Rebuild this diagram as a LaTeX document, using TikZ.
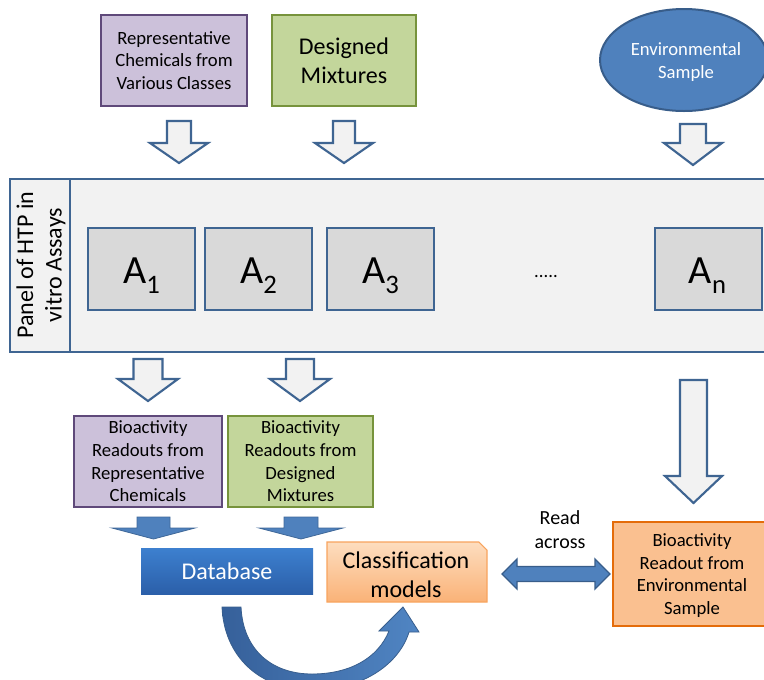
\documentclass[tikz,border=0pt]{standalone}
\usepackage{fontspec}
\setmainfont{Carlito}
\usetikzlibrary{shapes.geometric}
\definecolor{purfill}{HTML}{CCC1DA}
\definecolor{purdraw}{HTML}{5F497A}
\definecolor{grnfill}{HTML}{C3D69B}
\definecolor{grndraw}{HTML}{77933C}
\definecolor{bluefill}{HTML}{4F81BD}
\definecolor{bluedraw}{HTML}{385D8A}
\definecolor{panfill}{HTML}{F2F2F2}
\definecolor{pandraw}{HTML}{3F6592}
\definecolor{afill}{HTML}{D9D9D9}
\definecolor{orfill}{HTML}{FAC090}
\definecolor{ordraw}{HTML}{E46C0A}
\definecolor{dbtop}{HTML}{3D80CF}
\definecolor{dbbot}{HTML}{2B5FA9}
\definecolor{cltop}{HTML}{FDDDBF}
\definecolor{clbot}{HTML}{FAB277}
\definecolor{cldraw}{HTML}{F8A45E}
\definecolor{curvL}{HTML}{36609A}
\definecolor{curvR}{HTML}{5085C3}
\newcommand\blkdown[7]{\path[#1] (#2-#6,#3) -- (#2+#6,#3) -- (#2+#6,#4) -- (#2+#7,#4) -- (#2,#5) -- (#2-#7,#4) -- (#2-#6,#4) -- cycle;}
\newcommand\subsc[1]{\raisebox{-8pt}{\fontsize{20}{20}\selectfont #1}}
\begin{document}
\begin{tikzpicture}[x=0.75pt,y=-0.75pt,
  wh/.style 2 args={minimum width=#1*0.75pt,minimum height=#2*0.75pt},
  bx/.style={inner sep=0pt,outer sep=0pt,rectangle,align=center},
  f14/.style={font=\fontsize{14}{17}\selectfont},
  f18/.style={font=\fontsize{18}{22}\selectfont},
  purbox/.style={bx,fill=purfill,draw=purdraw,line width=1.5pt,f14},
  grnbox/.style={bx,fill=grnfill,draw=grndraw,line width=1.5pt},
  abox/.style={bx,fill=afill,draw=pandraw,line width=1.5pt},
  atext/.style={anchor=base,inner sep=0pt,font=\fontsize{30}{30}\selectfont},
  hollowarr/.style={fill=panfill,draw=pandraw,line width=1.6pt,line join=miter},
  solidarr/.style={fill=bluefill,draw=bluedraw!70!bluefill,line width=0.6pt},
]
\clip (0,0) rectangle (764,679);
\fill[white] (0,0) rectangle (764,679);

% top sources
\node[purbox,wh={146}{91}] (rep) at (174,60.5) {Representative\\Chemicals from\\Various Classes};
\node[grnbox,wh={144}{91},f18] (des) at (344,60.5) {Designed\\Mixtures};
\node[ellipse,inner sep=0pt,fill=bluefill,draw=bluedraw,line width=1.5pt,wh={168}{102},text=white,align=center,f14] (env) at (684,60) {};
\node[align=center,inner sep=0pt,text=white,f14] (envt) at (686,62) {Environmental\\Sample};

% hollow arrows into panel
\blkdown{hollowarr}{179}{121}{143}{163}{12}{29}
\blkdown{hollowarr}{344}{121}{143}{163}{11}{29}
\blkdown{hollowarr}{693}{124}{143}{165}{13}{29}

% panel
\node[bx,fill=panfill,draw=pandraw,line width=1.5pt,wh={770}{173},anchor=north west] (panel) at (10,179) {};
\node[bx,draw=pandraw,line width=1.5pt,wh={60}{173},anchor=north west] (plabel) at (10,179) {};
\node[rotate=90,align=center,inner sep=0pt,font=\fontsize{18}{21.5}\selectfont] (plabeltext) at (41,265) {Panel of HTP in\\vitro Assays};

\node[abox,wh={107}{82}] (A1) at (141.5,269) {};
\node[abox,wh={107}{82}] (A2) at (258.5,269) {};
\node[abox,wh={107}{82}] (A3) at (380.5,269) {};
\node[abox,wh={107}{82}] (An) at (708.5,269) {};
\node[atext] (A1t) at (141.5,283) {A\subsc{1}};
\node[atext] (A2t) at (258.5,283) {A\subsc{2}};
\node[atext] (A3t) at (380.5,283) {A\subsc{3}};
\node[atext] (Ant) at (707.5,283) {A\subsc{n}};
\node[anchor=base,inner sep=0pt,font=\fontsize{14}{14}\selectfont] (dots) at (546,277) {.....};

% hollow arrows out of panel
\blkdown{hollowarr}{148}{359}{379}{401}{14.5}{30}
\blkdown{hollowarr}{300}{359}{379}{401}{14}{30}
\blkdown{hollowarr}{693.5}{380}{476}{503}{13.5}{28.5}

% readouts
\node[purbox,wh={148}{91}] (br1) at (148,461.5) {Bioactivity\\Readouts from\\Representative\\Chemicals};
\node[grnbox,wh={145}{91},f14] (br2) at (300.5,461.5) {Bioactivity\\Readouts from\\Designed\\Mixtures};
\node[bx,fill=orfill,draw=ordraw,line width=2.2pt,wh={152}{104},f14] (envr) at (689,574) {};
\node[align=center,inner sep=0pt,f14] (envrt) at (692,575.5) {Bioactivity\\Readout from\\Environmental\\Sample};

% solid arrows into database
\blkdown{solidarr}{153.5}{517}{528}{539}{16.5}{41.5}
\blkdown{solidarr}{301}{517}{528}{539}{17}{42}

% database
\node[bx,wh={172}{46},top color=dbtop,bottom color=dbbot,text=white,f18] (db) at (227,571) {Database};

% classification models (folded corner)
\node[bx,wh={160}{60}] (cls) at (407,572) {};
\path[top color=cltop,bottom color=clbot,draw=cldraw,line width=0.8pt]
  (cls.north west) -- ([xshift=-6pt]cls.north east) -- ([yshift=-6pt]cls.north east) -- (cls.south east) -- (cls.south west) -- cycle;
\node[align=center,inner sep=0pt,f18] (clst) at (406,575) {Classification\\models};

% read across
\node[align=center,inner sep=0pt,font=\fontsize{15}{18}\selectfont] (ra) at (560,530) {Read\\across};
\path[fill=bluefill,draw=bluedraw,line width=1pt,line join=miter]
  (502,574) -- (517,559) -- (517,566.5) -- (595,566.5) -- (595,559) -- (610,574)
  -- (595,589) -- (595,581.5) -- (517,581.5) -- (517,589) -- cycle;

% curved arrow from database to models
\path[left color=curvL,right color=curvR,draw=bluedraw!80!curvL,line width=0.6pt,line join=miter]
  (222,607) .. controls (224,655) and (258,690) .. (312,690)
  .. controls (365,690) and (400,662) .. (409,632)
  -- (419,632) -- (403,607) -- (379,631) -- (389,631)
  .. controls (378,658) and (350,674) .. (312,674)
  .. controls (272,674) and (243,650) .. (241,607) -- cycle;
\end{tikzpicture}
\end{document}
